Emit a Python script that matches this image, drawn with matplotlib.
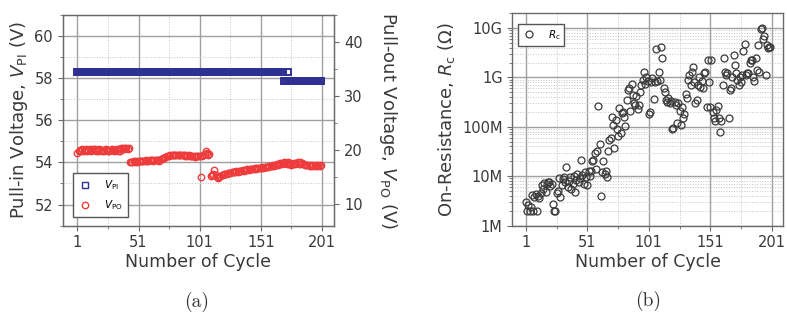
import matplotlib
matplotlib.use("Agg")
import matplotlib.pyplot as plt
import numpy as np
from matplotlib.ticker import MultipleLocator, FixedLocator, LogLocator, NullFormatter

plt.rcParams['mathtext.fontset'] = 'dejavusans'

# ---- data ----
cycles = np.arange(1, 201)

# pull-in voltage (V), left axis of (a)
v_pi = [58.3] * 169 + [57.86] * 3 + [58.3] + [57.86] * 27

# pull-out voltage (V), right axis of (a)
v_po = [
	19.4, 19.9, 20.0, 19.8, 20.1, 19.9, 20.0, 20.2, 19.9, 20.0,
	20.1, 19.9, 20.0, 20.2, 20.1, 19.8, 20.0, 19.9, 20.1, 20.0,
	19.9, 20.0, 19.9, 20.1, 20.0, 19.9, 19.8, 20.0, 20.1, 20.0,
	19.9, 20.0, 20.1, 19.8, 20.2, 19.9, 20.3, 20.4, 20.2, 20.3,
	20.4, 20.1, 20.3, 17.7, 17.8, 17.7, 17.9, 17.8, 17.9, 17.8,
	17.9, 17.9, 18.0, 17.9, 18.0, 18.0, 18.1, 17.9, 18.0, 18.1,
	18.1, 18.2, 18.0, 18.1, 18.2, 18.1, 18.2, 18.0, 18.3, 18.4,
	18.5, 18.6, 18.7, 18.8, 18.9, 18.9, 19.0, 19.0, 19.1, 19.0,
	19.1, 19.0, 19.1, 19.0, 19.1, 19.0, 19.0, 19.1, 18.9, 19.0,
	18.9, 19.0, 18.8, 18.9, 18.8, 18.8, 18.7, 18.9, 18.8, 18.8,
	18.9, 15.0, 18.9, 19.0, 19.3, 19.8, 19.4, 19.0, 19.2, 15.2,
	15.4, 15.6, 16.3, 15.3, 15.0, 14.8, 15.0, 15.1, 15.3, 15.4,
	15.5, 15.6, 15.5, 15.7, 15.8, 15.7, 15.9, 16.0, 15.9, 16.0,
	16.1, 16.0, 16.2, 16.1, 16.2, 16.3, 16.2, 16.3, 16.3, 16.4,
	16.3, 16.4, 16.5, 16.4, 16.5, 16.6, 16.5, 16.6, 16.7, 16.6,
	16.7, 16.8, 16.7, 16.8, 16.9, 16.8, 16.9, 17.0, 17.0, 17.1,
	17.2, 17.1, 17.3, 17.4, 17.3, 17.5, 17.6, 17.5, 17.6, 17.7,
	17.6, 17.5, 17.7, 17.4, 17.6, 17.3, 17.5, 17.6, 17.5, 17.6,
	17.7, 17.5, 17.8, 17.4, 17.6, 17.5, 17.3, 17.2, 17.3, 17.2,
	17.1, 17.2, 17.1, 17.2, 17.1, 17.2, 17.1, 17.2, 17.1, 17.2,
]

# on-resistance (MOhm), panel (b)
rc_mohm = [
	3.0, 2.0, 2.6, 2.0, 2.4, 4.2, 2.0, 3.8, 4.3, 2.0,
	4.0, 3.6, 4.5, 6.5, 5.5, 7.2, 4.8, 6.8, 7.8, 7.5,
	6.2, 7.0, 2.8, 2.0, 2.0, 4.5, 5.0, 9.0, 3.8, 6.5,
	8.8, 9.5, 7.5, 15.0, 6.0, 8.0, 9.5, 5.5, 7.0, 10.0,
	4.8, 8.5, 11.0, 7.5, 9.0, 21.0, 10.5, 7.0, 12.0, 9.5,
	6.5, 12.5, 10.0, 13.0, 20.0, 21.0, 30.0, 14.0, 33.0, 260.0,
	45.0, 4.0, 12.0, 20.0, 11.0, 12.5, 9.5, 33.0, 55.0, 60.0,
	160.0, 110.0, 38.0, 140.0, 90.0, 65.0, 240.0, 75.0, 190.0, 200.0,
	160.0, 105.0, 350.0, 550.0, 600.0, 210.0, 750.0, 450.0, 300.0, 280.0,
	420.0, 230.0, 270.0, 500.0, 700.0, 900.0, 1300.0, 750.0, 1000.0, 850.0,
	180.0, 200.0, 800.0, 950.0, 370.0, 800.0, 3800.0, 850.0, 1300.0, 900.0,
	4200.0, 2500.0, 600.0, 500.0, 350.0, 320.0, 380.0, 300.0, 340.0, 90.0,
	95.0, 320.0, 280.0, 120.0, 300.0, 210.0, 110.0, 250.0, 150.0, 180.0,
	460.0, 380.0, 900.0, 1100.0, 700.0, 1300.0, 1600.0, 800.0, 300.0, 350.0,
	700.0, 1000.0, 650.0, 850.0, 600.0, 1200.0, 1300.0, 250.0, 2200.0, 800.0,
	250.0, 2300.0, 200.0, 150.0, 130.0, 220.0, 260.0, 150.0, 80.0, 130.0,
	700.0, 2500.0, 1300.0, 1100.0, 1200.0, 150.0, 550.0, 600.0, 1000.0, 2800.0,
	1800.0, 1200.0, 900.0, 700.0, 1000.0, 800.0, 1100.0, 3500.0, 4800.0, 1100.0,
	1200.0, 1200.0, 2000.0, 2200.0, 2300.0, 1000.0, 850.0, 2500.0, 1400.0, 4500.0,
	1300.0, 9500.0, 10000.0, 6000.0, 7000.0, 1100.0, 4500.0, 4000.0, 4200.0, 4200.0,
]

x_ticks = [1, 51, 101, 151, 201]
rc_ticks = [1e6, 1e7, 1e8, 1e9, 1e10]
rc_labels = ["1M", "10M", "100M", "1G", "10G"]

text_col = "#3a3a3a"
blue = "#2e3192"
red = "#ee3b3b"


def style(ax):
	for s in ax.spines.values():
		s.set_color("#6a6a6a")
		s.set_linewidth(1.0)
	ax.tick_params(which="both", direction="out", colors="#6a6a6a", labelcolor=text_col, labelsize=10.5)
	ax.tick_params(which="major", length=3.5)
	ax.tick_params(which="minor", length=2)
	ax.grid(which="major", color="#a0a0a0", lw=1.0, ls="-")
	ax.grid(which="minor", color="#c4c4c4", lw=0.7, ls=":")
	ax.set_axisbelow(True)


fig = plt.figure(figsize=(7.87, 3.2), dpi=100)

# ---- (a) ----
ax = fig.add_axes([0.0797, 0.295, 0.345, 0.658])
style(ax)
ax.plot(cycles, v_pi, ls="none", marker="s", ms=4.8, mfc="none", mec=blue, mew=1.4, label=r"$V_{\mathrm{PI}}$")
ax.set_xlim(-11, 211)
ax.set_ylim(51, 61)
ax.xaxis.set_major_locator(FixedLocator(x_ticks))
ax.xaxis.set_minor_locator(FixedLocator([26, 76, 126, 176]))
ax.yaxis.set_major_locator(MultipleLocator(2))
ax.yaxis.set_minor_locator(MultipleLocator(1))
ax.set_xlabel("Number of Cycle", fontsize=12.5, color=text_col, labelpad=2)
ax.set_ylabel(r"Pull-in Voltage, $V_{\mathrm{PI}}$ (V)", fontsize=13, color=text_col, labelpad=3)

ax2 = ax.twinx()
ax2.plot(cycles, v_po, ls="none", marker="o", ms=4.6, mfc="none", mec=red, mew=1.0, label=r"$V_{\mathrm{PO}}$")
ax2.set_ylim(6, 45)
ax2.yaxis.set_major_locator(MultipleLocator(10))
ax2.yaxis.set_minor_locator(MultipleLocator(5))
for s in ax2.spines.values():
	s.set_color("#6a6a6a")
ax2.tick_params(which="both", direction="out", colors="#6a6a6a", labelcolor=text_col, labelsize=10.5)
ax2.tick_params(which="major", length=3.5)
ax2.tick_params(which="minor", length=2)
ax2.set_ylabel(r"Pull-out Voltage, $V_{\mathrm{PO}}$ (V)", fontsize=13, color=text_col, rotation=270, labelpad=26)

h1, l1 = ax.get_legend_handles_labels()
h2, l2 = ax2.get_legend_handles_labels()
leg = ax2.legend(h1 + h2, l1 + l2, loc="lower left", bbox_to_anchor=(0.02, 0.015), fontsize=7.5,
				 fancybox=False, framealpha=1, edgecolor="#555555", handlelength=1.2,
				 borderpad=0.5, labelspacing=0.6, handletextpad=1.2)
leg.get_frame().set_linewidth(1.0)
leg.legend_handles[0].set_markeredgewidth(1.0)

# ---- (b) ----
bx = fig.add_axes([0.651, 0.295, 0.3436, 0.664])
style(bx)
bx.plot(cycles, np.array(rc_mohm) * 1e6, ls="none", marker="o", ms=5.0, mfc="none", mec="#3a3a3a", mew=0.9, label=r"$R_{\mathrm{c}}$")
bx.set_yscale("log")
bx.set_xlim(-10, 210)
bx.set_ylim(1e6, 2e10)
bx.xaxis.set_major_locator(FixedLocator(x_ticks))
bx.xaxis.set_minor_locator(FixedLocator([26, 76, 126, 176]))
bx.yaxis.set_major_locator(FixedLocator(rc_ticks))
bx.yaxis.set_major_formatter(matplotlib.ticker.FixedFormatter(rc_labels))
bx.yaxis.set_minor_locator(LogLocator(base=10, subs=np.arange(2, 10)))
bx.yaxis.set_minor_formatter(NullFormatter())
bx.set_xlabel("Number of Cycle", fontsize=12.5, color=text_col, labelpad=2)
bx.set_ylabel(r"On-Resistance, $R_{\mathrm{c}}$ ($\Omega$)", fontsize=13, color=text_col, labelpad=4)
leg2 = bx.legend(loc="upper left", bbox_to_anchor=(0.003, 0.975), fontsize=7.5, fancybox=False,
				 framealpha=1, edgecolor="#555555", handlelength=1.2, borderpad=0.4, handletextpad=1.2)
leg2.get_frame().set_linewidth(1.0)

fig.text(0.250, 0.057, "(a)", family="cmr10", fontsize=14, ha="center", va="center", color="#333333")
fig.text(0.823, 0.060, "(b)", family="cmr10", fontsize=14, ha="center", va="center", color="#333333")

fig.savefig("out.png", dpi=100)
